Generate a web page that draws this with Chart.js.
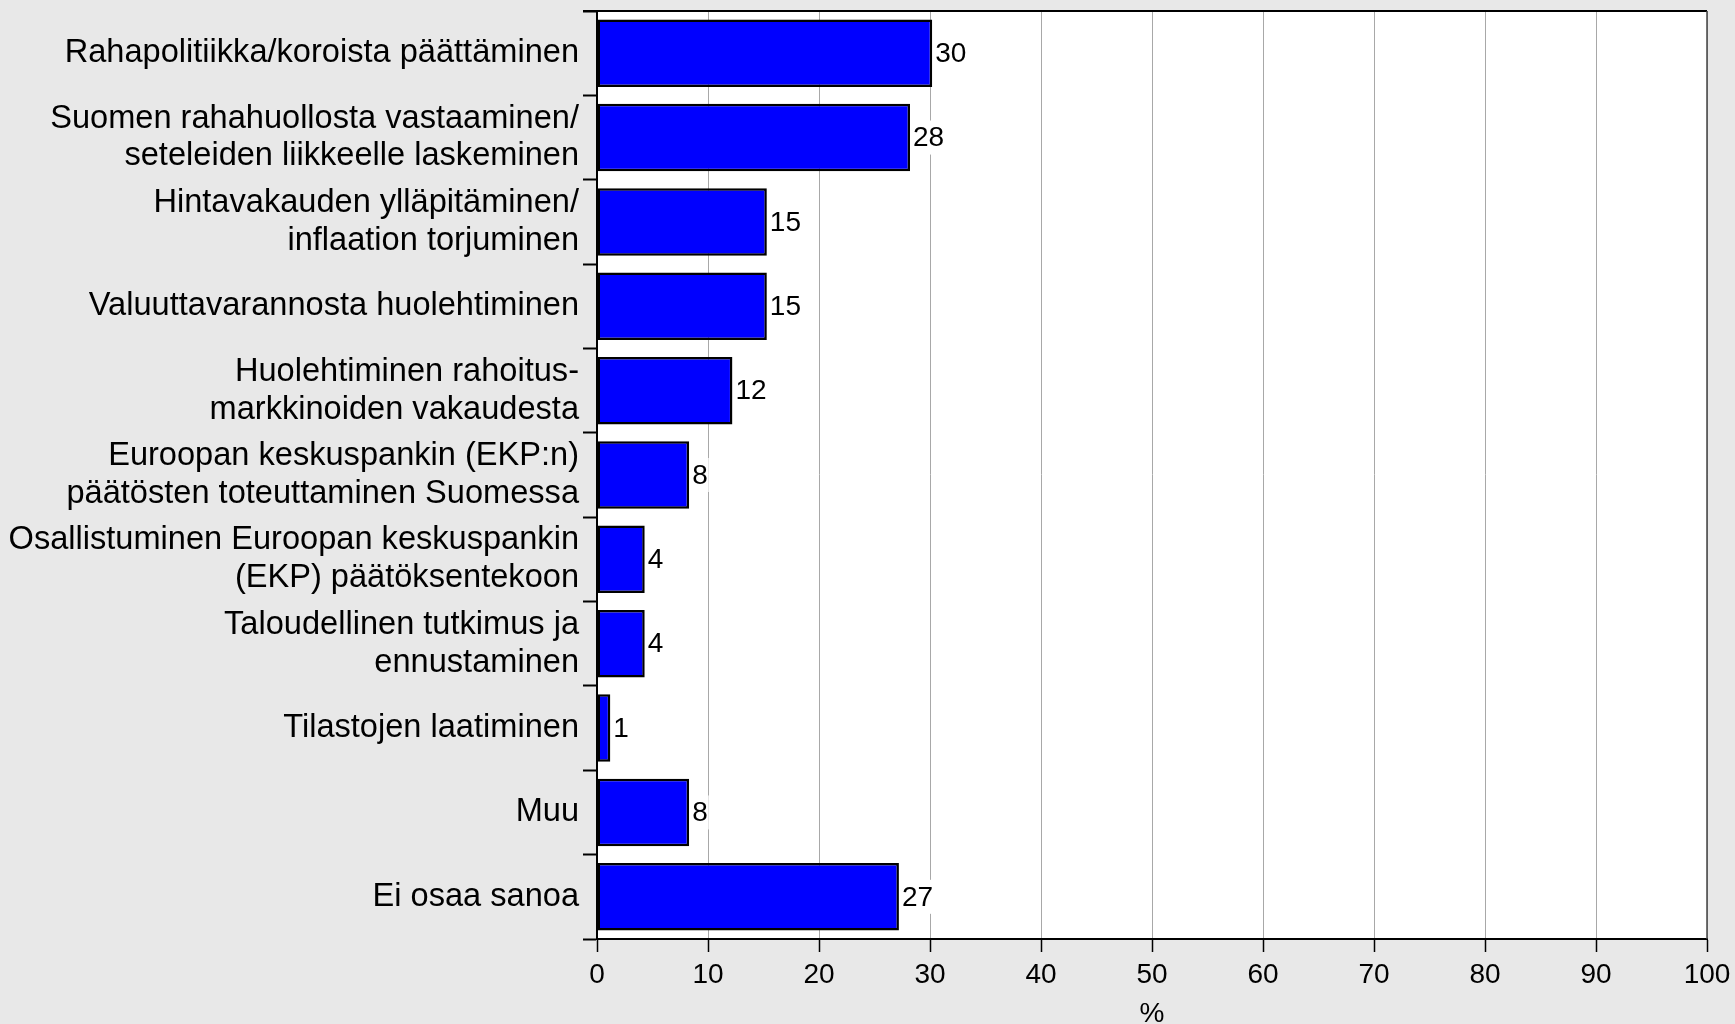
<!DOCTYPE html>
<html>
<head>
<meta charset="utf-8">
<script src="https://cdn.jsdelivr.net/npm/chart.js@4"></script>
<style>
body{margin:0;background:#e8e8e8;}
#wrap{width:1735px;height:1024px;}
</style>
</head>
<body>
<div id="wrap"><canvas id="chart" width="1735" height="1024"></canvas></div>
<script>
// categories (multi-line ones as arrays)
const categories = [
  "Rahapolitiikka/koroista päättäminen",
  ["Suomen rahahuollosta vastaaminen/", "seteleiden liikkeelle laskeminen"],
  ["Hintavakauden ylläpitäminen/", "inflaation torjuminen"],
  "Valuuttavarannosta huolehtiminen",
  ["Huolehtiminen rahoitus-", "markkinoiden vakaudesta"],
  ["Euroopan keskuspankin (EKP:n)", "päätösten toteuttaminen Suomessa"],
  ["Osallistuminen Euroopan keskuspankin", "(EKP) päätöksentekoon"],
  ["Taloudellinen tutkimus ja", "ennustaminen"],
  "Tilastojen laatiminen",
  "Muu",
  "Ei osaa sanoa"
];
const values = [30.2, 28.2, 15.3, 15.3, 12.2, 8.3, 4.3, 4.3, 1.2, 8.3, 27.2];
const xMin = 0;
const xMax = 100;
const xStep = 10;
const axisTitle = "%";

const FONT = "'Liberation Sans', Arial, sans-serif";

// white plot area + top/right frame
const frame = {
  id: "frame",
  beforeDraw(chart){
    const {ctx, chartArea:a} = chart;
    ctx.save();
    ctx.fillStyle = "#e8e8e8";
    ctx.fillRect(0,0,chart.width,chart.height);
    ctx.fillStyle = "#ffffff";
    ctx.fillRect(a.left,a.top,a.right-a.left,a.bottom-a.top);
    ctx.restore();
  },
  afterDraw(chart){
    const {ctx, chartArea:a} = chart;
    ctx.save();
    ctx.strokeStyle = "#000";
    ctx.lineWidth = 2;
    ctx.beginPath();
    ctx.moveTo(a.left-14,a.top);
    ctx.lineTo(a.right,a.top);
    ctx.stroke();
    ctx.strokeStyle = "#444";
    ctx.lineWidth = 1.5;
    ctx.beginPath();
    ctx.moveTo(a.right,a.top);
    ctx.lineTo(a.right,a.bottom);
    ctx.stroke();
    ctx.restore();
  }
};

// value labels with white box behind
const valueLabels = {
  id: "valueLabels",
  afterDatasetsDraw(chart){
    const ctx = chart.ctx;
    const meta = chart.getDatasetMeta(0);
    ctx.save();
    ctx.font = "28px " + FONT;
    ctx.textBaseline = "middle";
    ctx.textAlign = "left";
    meta.data.forEach((bar,i)=>{
      const txt = String(Math.round(values[i]));
      const w = ctx.measureText(txt).width;
      const x = bar.x + 3;
      ctx.fillStyle = "#fff";
      ctx.fillRect(x-1, bar.y-17, w+2, 34);
      ctx.fillStyle = "#000";
      ctx.fillText(txt, x, bar.y+1);
    });
    ctx.restore();
  }
};

new Chart(document.getElementById("chart").getContext("2d"),{
  type:"bar",
  data:{
    labels:categories,
    datasets:[{
      data:values,
      backgroundColor:"#0000ff",
      borderColor:"#000",
      borderWidth:2.5,
      borderSkipped:false,
      barPercentage:0.8,
      categoryPercentage:1
    }]
  },
  options:{
    indexAxis:"y",
    responsive:false,
    animation:false,
    layout:{padding:{left:0,top:11,right:28,bottom:0}},
    plugins:{
      legend:{display:false},
      tooltip:{enabled:false}
    },
    scales:{
      x:{
        min:xMin,
        max:xMax,
        afterFit(s){ s.height = 85; s.paddingLeft = 0; s.paddingRight = 0; },
        ticks:{stepSize:xStep,color:"#000",padding:6,font:{family:FONT,size:28}},
        grid:{color:"#a8a8a8",lineWidth:1,tickColor:"#000",tickLength:13,tickWidth:1.5},
        border:{display:true,color:"#000",width:2},
        title:{display:true,text:axisTitle,color:"#000",font:{family:FONT,size:28},padding:{top:0,bottom:-7}}
      },
      y:{
        afterFit(s){ s.width = 597; s.paddingTop = 0; s.paddingBottom = 0; },
        ticks:{color:"#000",padding:4,font:{family:FONT,size:32.6,lineHeight:1.16}},
        grid:{offset:true,drawOnChartArea:false,tickColor:"#000",tickLength:14,tickWidth:2},
        border:{display:true,color:"#000",width:2}
      }
    }
  },
  plugins:[frame,valueLabels]
});
</script>
</body>
</html>
